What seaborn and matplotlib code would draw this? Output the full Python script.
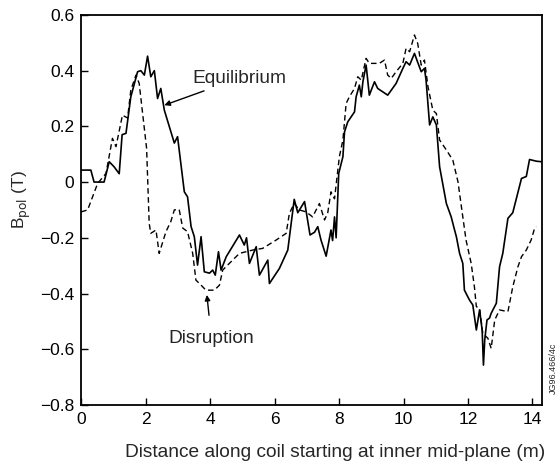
import pandas as pd
import matplotlib
matplotlib.use("Agg")
import matplotlib.pyplot as plt
import seaborn as sns

# Equilibrium (solid)
eq_x = [0.0, 0.3, 0.4, 0.71, 0.87, 1.02, 1.18, 1.27, 1.39, 1.54, 1.75, 1.85, 1.96, 2.06,
        2.16, 2.27, 2.37, 2.47, 2.58, 2.89, 2.99, 3.2, 3.3, 3.41, 3.51, 3.61, 3.72, 3.82,
        3.98, 4.08, 4.16, 4.26, 4.34, 4.5, 4.91, 5.06, 5.13, 5.22, 5.43, 5.53, 5.79, 5.84,
        6.15, 6.41, 6.61, 6.72, 6.93, 7.1, 7.24, 7.34, 7.44, 7.6, 7.75, 7.8, 7.86, 7.91,
        7.99, 8.12, 8.17, 8.27, 8.48, 8.53, 8.63, 8.69, 8.74, 8.84, 8.94, 9.1, 9.2, 9.51,
        9.77, 9.98, 10.08, 10.19, 10.34, 10.44, 10.55, 10.65, 10.7, 10.81, 10.91, 11.02,
        11.12, 11.33, 11.48, 11.58, 11.64, 11.74, 11.84, 11.89, 12.05, 12.15, 12.26, 12.36,
        12.44, 12.48, 12.52, 12.59, 12.67, 12.72, 12.88, 12.98, 13.08, 13.24, 13.39, 13.66,
        13.81, 13.91, 14.12, 14.28]
eq_y = [0.043, 0.043, 0.0, 0.0, 0.073, 0.055, 0.03, 0.17, 0.175, 0.306, 0.396, 0.40, 0.384, 0.452,
        0.378, 0.40, 0.30, 0.336, 0.258, 0.14, 0.163, -0.035, -0.053, -0.16, -0.196, -0.298, -0.196, -0.322,
        -0.327, -0.316, -0.334, -0.25, -0.316, -0.268, -0.19, -0.226, -0.2, -0.292, -0.232, -0.334, -0.28, -0.364,
        -0.31, -0.244, -0.062, -0.11, -0.07, -0.19, -0.18, -0.16, -0.208, -0.266, -0.172, -0.21, -0.125, -0.2,
        0.031, 0.091, 0.18, 0.216, 0.252, 0.306, 0.348, 0.306, 0.36, 0.42, 0.312, 0.36, 0.336, 0.312,
        0.354, 0.408, 0.432, 0.42, 0.462, 0.43, 0.396, 0.408, 0.366, 0.205, 0.234, 0.205,
        0.055, -0.077, -0.125, -0.17, -0.196, -0.256, -0.292, -0.388, -0.424, -0.441, -0.531, -0.459,
        -0.531, -0.657, -0.567, -0.495, -0.488, -0.471, -0.435, -0.304, -0.256, -0.13, -0.11, 0.013,
        0.02, 0.081, 0.075, 0.073]

# Disruption (dashed)
dis_x = [0.0, 0.2, 0.51, 0.77, 0.97, 1.08, 1.28, 1.44, 1.54, 1.7, 1.8, 2.03, 2.11, 2.16,
         2.32, 2.42, 2.63, 2.78, 2.89, 3.04, 3.15, 3.3, 3.46, 3.56, 3.72, 3.87, 4.13, 4.29,
         4.39, 4.7, 4.91, 5.32, 5.63, 6.05, 6.36, 6.46, 6.61, 6.77, 6.98, 7.18, 7.39, 7.55,
         7.65, 7.75, 7.86, 8.01, 8.12, 8.22, 8.32, 8.48, 8.58, 8.69, 8.84, 8.94, 9.25, 9.41,
         9.51, 9.62, 9.77, 9.98, 10.08, 10.19, 10.34, 10.44, 10.55, 10.65, 10.76, 10.91, 11.02,
         11.12, 11.33, 11.53, 11.69, 11.84, 11.94, 12.1, 12.2, 12.26, 12.36, 12.46, 12.62,
         12.72, 12.83, 12.98, 13.24, 13.39, 13.55, 13.66, 13.81, 13.96, 14.07, 14.12]
dis_y = [-0.107, -0.1, -0.005, 0.031, 0.157, 0.127, 0.24, 0.23, 0.33, 0.384, 0.354, 0.121, -0.148, -0.184,
         -0.172, -0.256, -0.178, -0.142, -0.1, -0.098, -0.165, -0.178, -0.256, -0.352, -0.37, -0.388, -0.388, -0.37,
         -0.316, -0.28, -0.256, -0.244, -0.238, -0.208, -0.184, -0.112, -0.077, -0.1, -0.107, -0.125, -0.077, -0.136,
         -0.11, -0.035, -0.06, 0.091, 0.151, 0.282, 0.306, 0.336, 0.378, 0.366, 0.444, 0.426, 0.426, 0.438,
         0.384, 0.372, 0.396, 0.426, 0.48, 0.468, 0.528, 0.498, 0.42, 0.438, 0.342, 0.258, 0.246,
         0.151, 0.115, 0.079, 0.001, -0.125, -0.208, -0.292, -0.376, -0.447, -0.453, -0.543, -0.561,
         -0.597, -0.495, -0.459, -0.465, -0.376, -0.304, -0.268, -0.244, -0.208, -0.165, -0.16]

x_ticks = [0, 2, 4, 6, 8, 10, 12, 14]
y_ticks = [0.6, 0.4, 0.2, 0, -0.2, -0.4, -0.6, -0.8]
y_tick_labels = ["0.6", "0.4", "0.2", "0", "\u22120.2", "\u22120.4", "\u22120.6", "\u22120.8"]

eq = pd.DataFrame({"x": eq_x, "y": eq_y})
dis = pd.DataFrame({"x": dis_x, "y": dis_y})

sns.set_style("ticks")
plt.rcParams["font.family"] = ["Liberation Sans", "DejaVu Sans"]

fig = plt.figure(figsize=(5.56, 4.66), dpi=100)
ax = fig.add_axes([0.146, 0.131, 0.829, 0.837])

sns.lineplot(data=eq, x="x", y="y", ax=ax, color="black", lw=1.2,
             estimator=None, sort=False)
sns.lineplot(data=dis, x="x", y="y", ax=ax, color="black", lw=1.0,
             estimator=None, sort=False, linestyle=(0, (4, 2.5)))

ax.set_xlim(0, 14.3)
ax.set_ylim(-0.8, 0.6)
ax.set_xticks(x_ticks)
ax.set_yticks(y_ticks)
ax.set_yticklabels(y_tick_labels)
ax.tick_params(direction="in", length=5, width=1, labelsize=12.5, pad=5, colors="black")
for s in ax.spines.values():
    s.set_linewidth(1.3)
    s.set_color("black")

ax.set_xlabel("Distance along coil starting at inner mid-plane (m)", fontsize=13.8)
ax.set_ylabel(r"B$_{\mathrm{pol}}$ (T)", fontsize=12.5)
ax.xaxis.set_label_coords(0.551, -0.101)
ax.yaxis.set_label_coords(-0.104, 0.526)

ax.annotate("Equilibrium", xy=(2.58, 0.276), xytext=(3.45, 0.373),
            fontsize=13.8, va="center", ha="left",
            arrowprops=dict(arrowstyle="-|>", color="black", lw=1, shrinkA=2, shrinkB=0,
                            mutation_scale=8))
ax.annotate("Disruption", xy=(3.9, -0.405), xytext=(4.04, -0.56),
            fontsize=13.8, va="center", ha="center",
            arrowprops=dict(arrowstyle="-|>", color="black", lw=1, shrinkA=8, shrinkB=0,
                            mutation_scale=8))

fig.text(553 / 556, 1 - 368 / 466, "JG96.466/4c", rotation=90, fontsize=6.5,
         ha="center", va="center")

fig.savefig("out.png", dpi=100)
